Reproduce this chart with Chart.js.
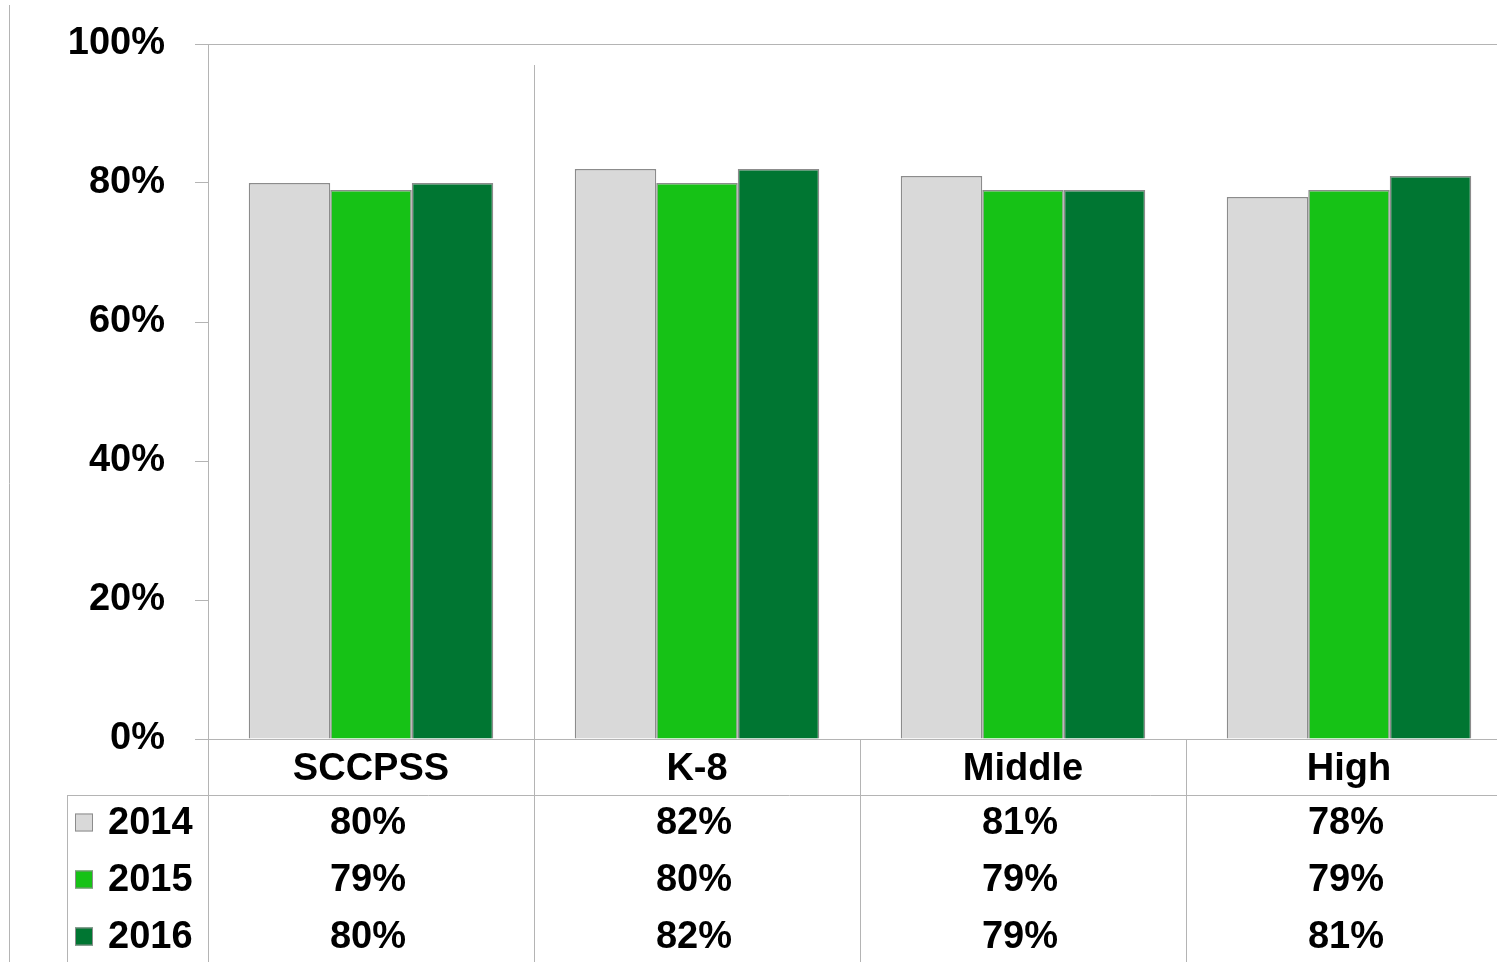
<!DOCTYPE html>
<html lang="en">
<head>
  <meta charset="UTF-8" />
  <title>SCCPSS 2014-2016</title>
  <script src="https://cdn.jsdelivr.net/npm/chart.js"></script>
  <style>
    html, body {
      margin: 0;
      padding: 0;
      background: #ffffff;
      overflow: hidden;
    }
    #wrap {
      width: 1512px;
      height: 962px;
    }
  </style>
</head>
<body>
  <div id="wrap">
    <canvas id="chart" width="1512" height="962"></canvas>
  </div>

  <script>
    const categories = ['SCCPSS', 'K-8', 'Middle', 'High'];
    const years = ['2014', '2015', '2016'];
    const values2014 = [80, 82, 81, 78];
    const values2015 = [79, 80, 79, 79];
    const values2016 = [80, 82, 79, 81];
    const yTicks = [0, 20, 40, 60, 80, 100];

    const colors = ['#d9d9d9', '#16c216', '#007632'];
    const lineColor = '#b4b4b4';
    const fontFamily = '"Liberation Sans", Arial, sans-serif';
    const fontSize = 38;

    const series = [values2014, values2015, values2016];

    // data table under the axis, drawn from the x scale
    const dataTable = {
      id: 'dataTable',
      afterDraw(chart) {
        const ctx = chart.ctx;
        const x = chart.scales.x;
        const y = chart.scales.y;
        const area = chart.chartArea;
        const half = (x.getPixelForValue(1) - x.getPixelForValue(0)) / 2;
        const rowTop = area.bottom + 56;
        const rowH = 57;

        ctx.save();
        ctx.strokeStyle = lineColor;
        ctx.lineWidth = 1;

        // outer left border
        ctx.beginPath();
        ctx.moveTo(9.5, 5);
        ctx.lineTo(9.5, chart.height);
        ctx.stroke();

        // 100% line
        const top = Math.round(y.getPixelForValue(100)) + 0.5;
        ctx.beginPath();
        ctx.moveTo(area.left, top);
        ctx.lineTo(chart.width, top);
        ctx.stroke();

        // odd separator inside the plot area
        const sep0 = Math.round(x.getPixelForValue(0) + half) + 0.5;
        ctx.beginPath();
        ctx.moveTo(sep0, area.top + 21);
        ctx.lineTo(sep0, area.bottom);
        ctx.stroke();

        // vertical table lines
        for (let i = 0; i <= categories.length; i++) {
          const px = Math.round(x.getPixelForValue(i) - half) + 0.5;
          ctx.beginPath();
          ctx.moveTo(px, area.bottom);
          ctx.lineTo(px, chart.height);
          ctx.stroke();
        }
        ctx.beginPath();
        ctx.moveTo(67.5, rowTop);
        ctx.lineTo(67.5, chart.height);
        ctx.stroke();

        // horizontal table line
        ctx.beginPath();
        ctx.moveTo(67, rowTop + 0.5);
        ctx.lineTo(chart.width, rowTop + 0.5);
        ctx.stroke();

        ctx.font = 'bold ' + fontSize + 'px ' + fontFamily;
        ctx.textBaseline = 'middle';
        ctx.fillStyle = '#000000';

        years.forEach((year, r) => {
          const cy = rowTop + rowH * (r + 0.5);
          // legend key
          ctx.fillStyle = colors[r];
          ctx.fillRect(75, cy - 10, 18, 18);
          ctx.strokeStyle = '#8c8c8c';
          ctx.strokeRect(75.5, cy - 9.5, 17, 17);
          ctx.fillStyle = '#000000';
          ctx.textAlign = 'left';
          ctx.fillText(year, 108, cy);

          ctx.textAlign = 'center';
          series[r].forEach((v, c) => {
            ctx.fillText(v + '%', x.getPixelForValue(c) - 3, cy);
          });
        });
        ctx.restore();
      }
    };

    new Chart(document.getElementById('chart').getContext('2d'), {
      type: 'bar',
      data: {
        labels: categories,
        datasets: years.map((year, i) => ({
          label: year,
          data: series[i],
          backgroundColor: colors[i],
          borderColor: '#8c8c8c',
          borderWidth: 1.5,
          barPercentage: 1,
          categoryPercentage: 0.75
        }))
      },
      options: {
        responsive: false,
        animation: false,
        devicePixelRatio: 1,
        layout: { padding: { top: 44, left: 0, right: 0, bottom: 0 } },
        plugins: {
          legend: { display: false },
          tooltip: { enabled: false }
        },
        scales: {
          x: {
            afterFit: (s) => { s.height = 223; s.paddingLeft = 0; s.paddingRight = 0; },
            grid: { display: false, drawTicks: false },
            border: { display: true, color: lineColor, width: 1 },
            ticks: {
              color: '#000000',
              padding: 8,
              font: { family: fontFamily, size: fontSize, weight: 'bold' }
            }
          },
          y: {
            min: 0,
            max: 100,
            afterFit: (s) => { s.width = 208; s.paddingTop = 0; s.paddingBottom = 0; },
            afterBuildTicks: (s) => { s.ticks = yTicks.map(v => ({ value: v })); },
            grid: { drawOnChartArea: false, drawTicks: true, tickLength: 13, color: lineColor },
            border: { display: true, color: lineColor, width: 1 },
            ticks: {
              color: '#000000',
              padding: 30,
              font: { family: fontFamily, size: fontSize, weight: 'bold' },
              callback: (v) => v + '%'
            }
          }
        }
      },
      plugins: [dataTable]
    });
  </script>
</body>
</html>
